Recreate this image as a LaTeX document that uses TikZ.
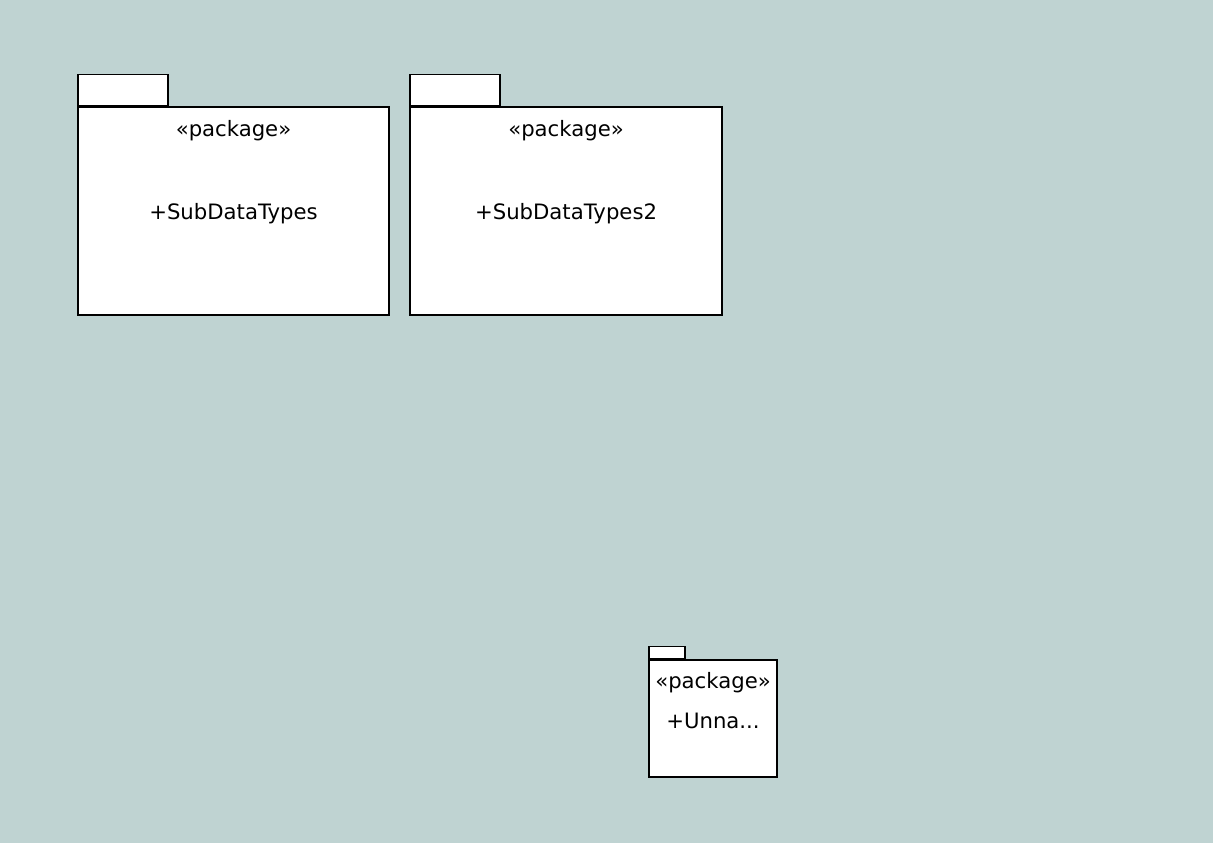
\documentclass[tikz,border=0pt]{standalone}
\usepackage{fontspec}
\setmainfont{DejaVu Sans}
\usetikzlibrary{positioning}
\definecolor{canvas}{RGB}{191,211,210}
\tikzset{
    pkgbody/.style={draw, fill=white, line width=1.2pt, inner sep=0pt},
    pkgtab/.style={draw, fill=white, line width=1.2pt, inner sep=0pt, anchor=south west},
    pkgtext/.style={inner sep=0pt, font=\fontsize{21.2}{25}\selectfont}
}
\begin{document}
\begin{tikzpicture}[x=1pt, y=-1pt]
    \useasboundingbox (0,0) rectangle (1231,861);
    \fill[white] (0,0) rectangle (1231,861);
    \fill[canvas] (0,0) rectangle (1213,843);

    %SubDataTypes
    \node[pkgbody, minimum width=311pt, minimum height=208pt] (pkgA) at (233.5,211) {};
    \node[pkgtab, minimum width=90pt, minimum height=31pt] (pkgAtab) at (pkgA.north west) {};
    \node[pkgtext] (pkgAster) at ([yshift=-24pt]pkgA.north) {«package»};
    \node[pkgtext] (pkgAname) at ([yshift=-3pt]pkgA) {+SubDataTypes};

    %SubDataTypes2
    \node[pkgbody, minimum width=312pt, minimum height=208pt] (pkgB) at (566,211) {};
    \node[pkgtab, minimum width=90pt, minimum height=31pt] (pkgBtab) at (pkgB.north west) {};
    \node[pkgtext] (pkgBster) at ([yshift=-24pt]pkgB.north) {«package»};
    \node[pkgtext] (pkgBname) at ([yshift=-3pt]pkgB) {+SubDataTypes2};

    %Unnamed
    \node[pkgbody, minimum width=128pt, minimum height=117pt] (pkgC) at (713,718.5) {};
    \node[pkgtab, minimum width=36pt, minimum height=12pt] (pkgCtab) at (pkgC.north west) {};
    \node[pkgtext] (pkgCster) at ([yshift=-23pt]pkgC.north) {«package»};
    \node[pkgtext] (pkgCname) at ([yshift=-2pt]pkgC) {+Unna...};
\end{tikzpicture}
\end{document}
